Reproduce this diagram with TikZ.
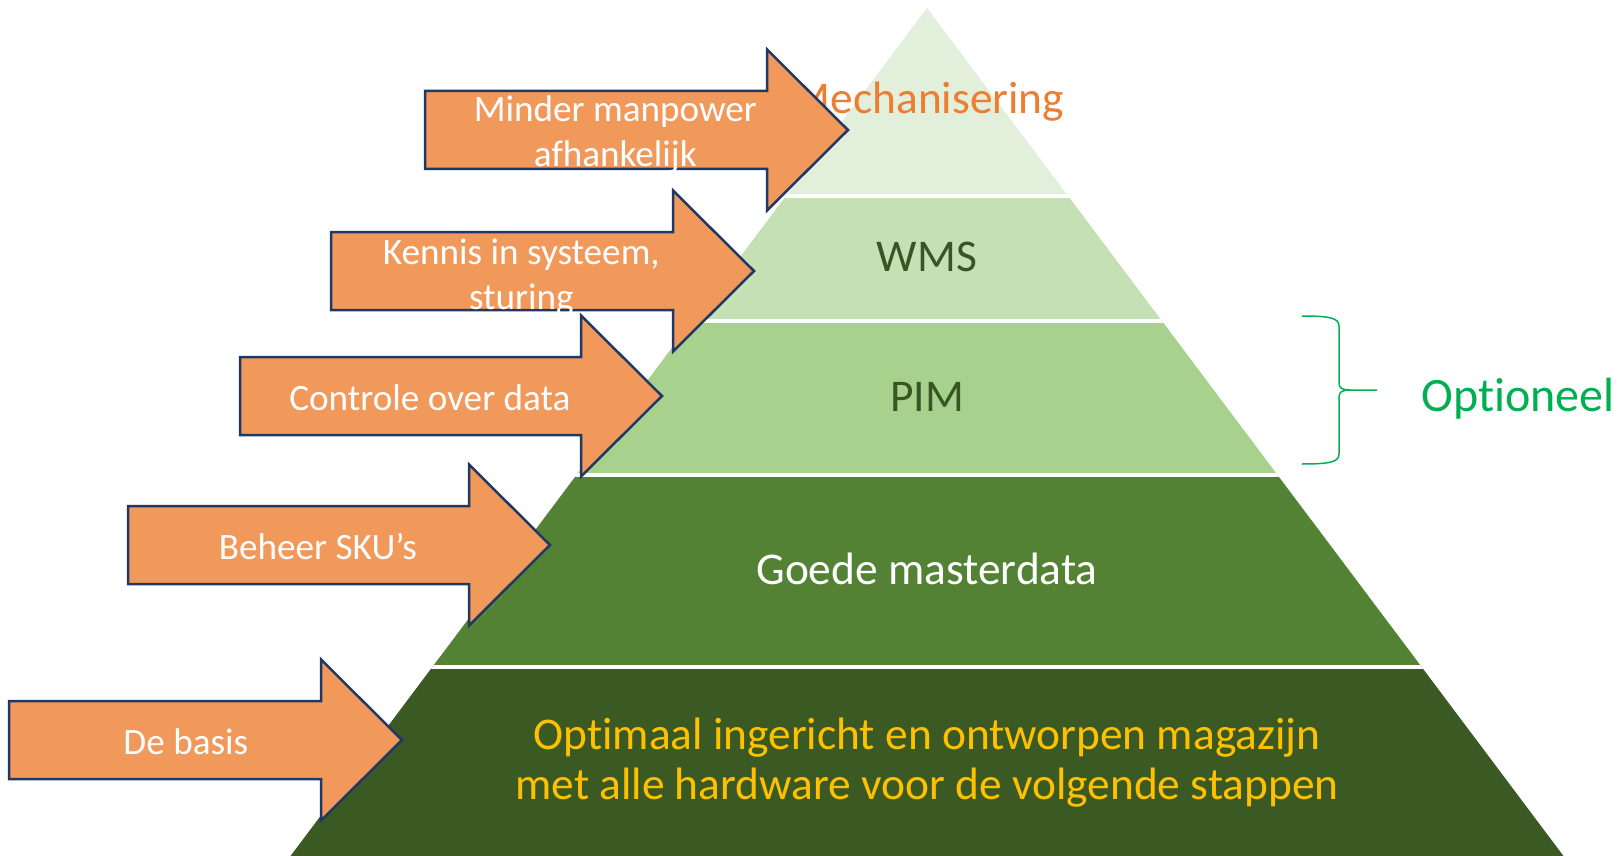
\documentclass[tikz,border=0pt]{standalone}
\usepackage{fontspec}
\setmainfont{Carlito}[RawFeature={-liga}]
\definecolor{layA}{HTML}{E2EFDA}
\definecolor{layB}{HTML}{C5E0B4}
\definecolor{layC}{HTML}{A9D18E}
\definecolor{layD}{HTML}{548235}
\definecolor{layE}{HTML}{3B5A23}
\definecolor{arrfill}{HTML}{F0995B}
\definecolor{arrline}{HTML}{1F3864}
\definecolor{mechorange}{HTML}{ED7D31}
\definecolor{darkgreen}{HTML}{375623}
\definecolor{basisyellow}{HTML}{FFC000}
\definecolor{optgreen}{HTML}{00B050}

\begin{document}
\begin{tikzpicture}[x=0.5pt, y=-0.5pt,
    arr/.style={fill=arrfill, draw=arrline, line width=1.25pt, line join=miter},
    arrtext/.style={text=white, align=center, inner sep=0pt, text height=0.63em, text depth=0pt,
      font=\fontsize{18.6}{22.5}\selectfont},
    lvl/.style={align=center, inner sep=0pt, text height=0.63em, text depth=0pt,
      font=\fontsize{22.7}{25}\selectfont}]
        \useasboundingbox (0,0) rectangle (1618,856);
        \begin{scope}
                \clip (927,8) -- (1563.5,856) -- (290.5,856) -- cycle;
                \fill[layA] (0,0) rectangle (1618,196);
                \fill[layB] (0,196) rectangle (1618,321);
                \fill[layC] (0,321) rectangle (1618,475);
                \fill[layD] (0,475) rectangle (1618,667);
                \fill[layE] (0,667) rectangle (1618,856);
                \foreach \y in {196, 321, 475, 667}
                        \draw[white, line width=2pt] (0,\y) -- (1618,\y);
        \end{scope}
        \node[lvl, text=mechorange] (mech) at (928,107) {Mechanisering};
        \node[lvl, text=darkgreen] (wms) at (927,265) {WMS};
        \node[lvl, text=darkgreen] (pim) at (927,405) {PIM};
        \node[lvl, text=white] (master) at (927,578) {Goede masterdata};
        \node[lvl, text=basisyellow] (basis) at (927,793.5) {Optimaal ingericht en ontworpen magazijn\\met alle hardware voor de volgende stappen};
        \draw[optgreen, line width=0.75pt] (1302,316) .. controls (1330,316) and (1339,318) .. (1339,326)
                -- (1339,383) .. controls (1339,388) and (1342,390) .. (1350,390) -- (1377,390)
                -- (1350,390) .. controls (1342,390) and (1339,392) .. (1339,397)
                -- (1339,454) .. controls (1339,462) and (1330,464) .. (1302,464);
        \node[lvl, text=optgreen, anchor=west, font=\fontsize{24}{27}\selectfont] (opt) at (1421,405) {Optioneel};
        \foreach \l/\t/\c/\ty/\name/\txt in {425/848/130/160.5/mech/{Minder manpower\\afhankelijk},
                331/754/271/303.5/wms/{Kennis in systeem,\\sturing},
                240/662/396/404/pim/{Controle over data},
                128/550/545/553/sku/{Beheer SKU’s},
                9/402/740/748/basis/{De basis}}{
                \draw[arr] (\l,\c-39) -- (\t-81,\c-39) -- (\t-81,\c-80.5) -- (\t,\c)
                        -- (\t-81,\c+80.5) -- (\t-81,\c+39) -- (\l,\c+39) -- cycle;
                \node[arrtext] (t\name) at ({\l+0.45*(\t-\l)},\ty) {\txt};
        }
\end{tikzpicture}
\end{document}
